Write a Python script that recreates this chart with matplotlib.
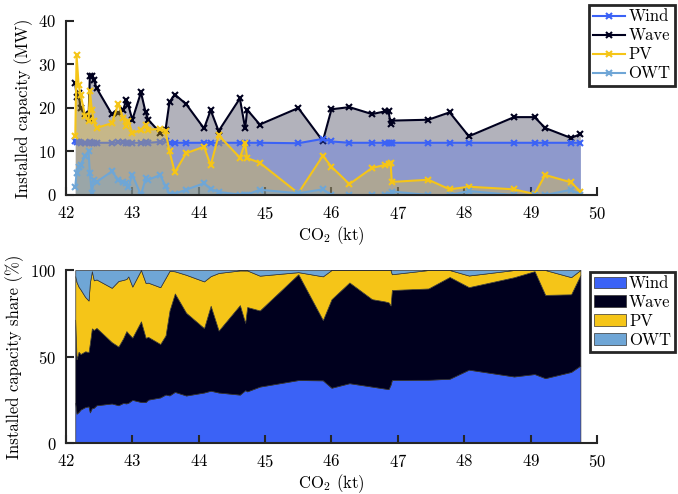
import matplotlib
matplotlib.use("Agg")
import matplotlib.pyplot as plt
import numpy as np

plt.rcParams['font.family'] = 'serif'
plt.rcParams['font.serif'] = ['cmr10']
plt.rcParams['mathtext.fontset'] = 'cm'
plt.rcParams['axes.formatter.use_mathtext'] = True
plt.rcParams['font.size'] = 12

# CO2 emissions of each solution (kt) and installed capacity per technology (MW)
co2 = [42.14, 42.16, 42.19, 42.22, 42.29, 42.34, 42.36, 42.39, 42.42, 42.46,
       42.69, 42.79, 42.86, 42.91, 42.94, 43.00, 43.13, 43.20, 43.24, 43.42,
       43.50, 43.56, 43.64, 43.81, 44.08, 44.18, 44.30, 44.62, 44.70, 44.73,
       44.92, 45.50, 45.87, 46.00, 46.27, 46.61, 46.80, 46.86, 46.89, 46.91,
       47.46, 47.78, 48.07, 48.75, 49.06, 49.22, 49.61, 49.75]
wind = [12.4, 12.2, 12.1, 12.0, 12.0, 12.0, 12.1, 12.0, 12.0, 12.0,
        12.0, 12.1, 12.1, 12.0, 12.0, 12.0, 12.0, 12.1, 12.0, 12.2,
        12.3, 12.0, 12.0, 12.0, 12.0, 12.0, 12.0, 12.0, 12.0, 12.0,
        12.0, 11.9, 12.9, 12.3, 12.0, 12.0, 12.0, 12.0, 12.0, 12.0,
        12.0, 12.0, 12.0, 12.0, 12.0, 12.0, 12.0, 12.0]
wave = [25.8, 22.6, 23.5, 19.9, 18.6, 17.8, 27.3, 27.3, 26.5, 24.6,
        18.6, 18.8, 19.5, 21.9, 20.6, 17.3, 23.6, 19.0, 17.3, 14.3,
        15.0, 21.4, 23.1, 20.9, 15.3, 19.5, 14.7, 22.2, 15.3, 19.6,
        16.2, 20.0, 12.4, 19.7, 20.2, 18.6, 19.2, 19.3, 16.3, 17.1,
        17.3, 19.0, 13.5, 17.9, 17.9, 15.4, 13.1, 14.0]
pv = [13.5, 32.1, 25.4, 23.1, 18.1, 16.9, 23.9, 19.6, 16.9, 15.4,
      16.5, 21.0, 17.7, 15.8, 17.0, 14.2, 15.0, 16.2, 15.0, 15.2,
      14.6, 10.0, 5.2, 9.6, 11.1, 6.8, 13.7, 8.6, 11.9, 8.5,
      7.4, 0.4, 9.0, 6.5, 2.5, 6.2, 6.9, 7.2, 7.3, 3.0,
      3.5, 1.3, 1.9, 1.3, 0.2, 4.6, 2.9, 0.8]
owt = [1.9, 5.0, 6.5, 7.0, 9.0, 10.0, 5.0, 0.4, 3.5, 3.0,
       5.4, 3.5, 3.0, 2.7, 1.9, 4.6, 0.0, 3.8, 3.5, 4.6,
       2.0, 0.2, 0.3, 1.2, 2.7, 1.4, 0.7, 0.1, 0.1, 0.1,
       1.2, 0.4, 1.3, 0.0, 0.0, 0.0, 0.0, 0.0, 0.0, 0.8,
       0.0, 0.0, 0.9, 0.0, 0.0, 0.0, 1.2, 0.0]

names = ['Wind', 'Wave', 'PV', 'OWT']
colors = ['#3b62f6', '#00001e', '#f5c518', '#6fa6d6']
series = [wind, wave, pv, owt]
# stacking order of fills/lines in the capacity panel
layer = {'Wave': 1, 'Wind': 2, 'PV': 3, 'OWT': 4}

fig = plt.figure(figsize=(6.78, 4.94), dpi=100)
ax1 = fig.add_axes([0.0973, 0.6053, 0.7832, 0.3522])
ax2 = fig.add_axes([0.0973, 0.1032, 0.7832, 0.3502])

x = np.array(co2)
for name, c, vals in zip(names, colors, series):
    z = layer[name]
    ax1.fill_between(x, 0, vals, color=c, alpha=0.3, linewidth=0, zorder=z)
    ax1.plot(x, vals, color=c, marker='x', markersize=5, markeredgewidth=1.5,
             linewidth=1.5, label=name, zorder=z + 0.5)

# capacity shares
total = np.sum(series, axis=0)
shares = [100 * np.array(v) / total for v in series]
ax2.stackplot(x, *shares, colors=colors, labels=names,
              edgecolor='#333333', linewidth=0.5)

for ax in (ax1, ax2):
    ax.set_xlim(42, 50)
    ax.set_xticks(range(42, 51))
    ax.spines['top'].set_visible(False)
    ax.spines['right'].set_visible(False)
    for s in ('left', 'bottom'):
        ax.spines[s].set_color('#262626')
        ax.spines[s].set_linewidth(1.5)
        ax.spines[s].set_zorder(6)
    ax.tick_params(direction='in', length=6, width=1.5, color='#262626',
                   labelsize=12, pad=7)
    ax.set_xlabel('CO$_2$ (kt)', fontsize=12, labelpad=2)

ax1.set_ylim(0, 40)
ax1.set_yticks([0, 10, 20, 30, 40])
ax1.set_ylabel('Installed capacity (MW)', fontsize=12, labelpad=4)
ax2.set_ylim(0, 100)
ax2.set_yticks([0, 50, 100])
ax2.set_ylabel('Installed capacity share (%)', fontsize=12, labelpad=4)

leg_kw = dict(loc='upper left', bbox_transform=fig.transFigure, fancybox=False,
              framealpha=1, edgecolor='#262626', fontsize=12, handlelength=1.9,
              borderpad=0.25, labelspacing=0.22, handletextpad=0.2,
              borderaxespad=0)
h, l = ax1.get_legend_handles_labels()
leg1 = ax1.legend(h, l, bbox_to_anchor=(0.869, 0.99), **leg_kw)
leg2 = ax2.legend(bbox_to_anchor=(0.870, 0.45), **leg_kw)
for leg in (leg1, leg2):
    leg.get_frame().set_linewidth(2)

fig.savefig('out.png', dpi=100)
